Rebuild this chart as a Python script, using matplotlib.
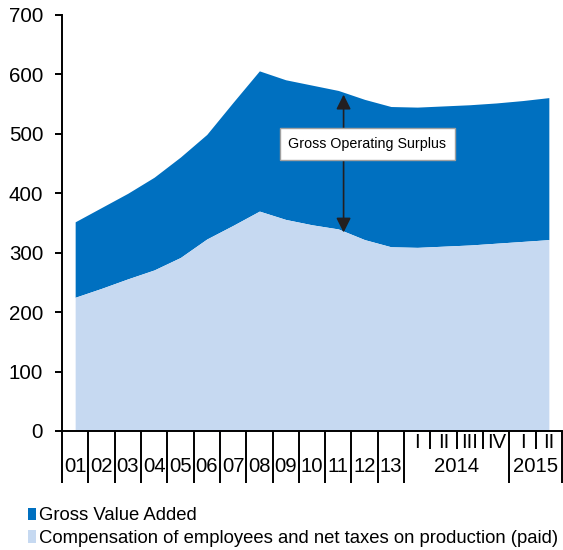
import matplotlib
matplotlib.use("Agg")
import matplotlib.pyplot as plt
from matplotlib.patches import Patch
from matplotlib.transforms import blended_transform_factory, offset_copy
import numpy as np

plt.rcParams['font.family'] = ['Liberation Sans', 'DejaVu Sans']

# category labels: top row (quarters) and bottom row (years / groups)
periods = ['01', '02', '03', '04', '05', '06', '07', '08', '09', '10', '11', '12', '13',
           'I', 'II', 'III', 'IV', 'I', 'II']
year_groups = [('2014', 13, 17), ('2015', 17, 19)]

gross_value_added = [352, 376, 400, 427, 461, 499, 553, 606, 591, 582, 573, 558, 546,
                     545, 547, 549, 552, 556, 561]
compensation = [225, 240, 256, 271, 292, 323, 346, 370, 356, 347, 340, 322, 310,
                309, 311, 313, 316, 319, 322]

dark_blue = '#0070C0'
light_blue = '#C6D9F1'

fig = plt.figure(figsize=(5.63, 5.5), dpi=100)
ax = fig.add_axes([62 / 563, 1 - 431 / 550, 500 / 563, 416 / 550])

x = np.arange(len(periods))
ax.fill_between(x, compensation, gross_value_added, color=dark_blue, lw=0, zorder=2)
ax.fill_between(x, 0, compensation, color=light_blue, lw=0, zorder=2)

ax.set_xlim(-0.5, len(periods) - 0.5)
ax.set_ylim(0, 700)
ax.set_yticks(range(0, 701, 100))
ax.tick_params(axis='y', direction='out', length=5, width=1.4, labelsize=14.8, pad=8.5)
ax.set_xticks([])
for s in ['top', 'right']:
    ax.spines[s].set_visible(False)
ax.spines['left'].set_linewidth(1.4)
ax.spines['bottom'].set_linewidth(1.4)

# category separators below the axis
trans = blended_transform_factory(ax.transData, ax.transAxes)
long_sep = list(np.arange(0, 14) - 0.5) + [g[2] - 0.5 for g in year_groups]
short_sep = [i - 0.5 for i in range(14, 19) if i != 17]
ax.vlines(long_sep, -52 / 416, 0, transform=trans, color='black', lw=1.4, clip_on=False)
ax.vlines(short_sep, -18 / 416, 0, transform=trans, color='black', lw=1.4, clip_on=False)

top_row = offset_copy(trans, fig=fig, y=-12 / 100 * 72, units='points')
bottom_row = offset_copy(trans, fig=fig, y=-35 / 100 * 72, units='points')
for i, lab in enumerate(periods):
    if i < 13:
        ax.text(i, 0, lab, transform=bottom_row, ha='center', va='center', fontsize=14.6)
    else:
        ax.text(i, 0, lab, transform=top_row, ha='center', va='center', fontsize=14.6)
for lab, a, b in year_groups:
    ax.text((a + b - 1) / 2, 0, lab, transform=bottom_row, ha='center', va='center', fontsize=14.6)

# Gross Operating Surplus annotation
ax.annotate('', xy=(10.2, 566), xytext=(10.2, 334),
            arrowprops=dict(arrowstyle='<|-|>', color='#231F20', lw=1.2,
                            mutation_scale=22, shrinkA=0, shrinkB=0), zorder=3)
ax.text(11.1, 483, 'Gross Operating Surplus', ha='center', va='center', fontsize=10.3,
        zorder=4, bbox=dict(boxstyle='square,pad=0.6', fc='white', ec='#A0A0A0', lw=1))

handles = [Patch(facecolor=dark_blue, edgecolor='none'),
           Patch(facecolor=light_blue, edgecolor='none')]
fig.legend(handles, ['Gross Value Added',
                     'Compensation of employees and net taxes on production (paid)'],
           loc='lower left', bbox_to_anchor=(28 / 563, 3 / 550), frameon=False,
           fontsize=13.3, handlelength=0.45, handleheight=0.65, handletextpad=0.15,
           labelspacing=0.3, borderpad=0, borderaxespad=0)

fig.savefig('out.png', dpi=100)
